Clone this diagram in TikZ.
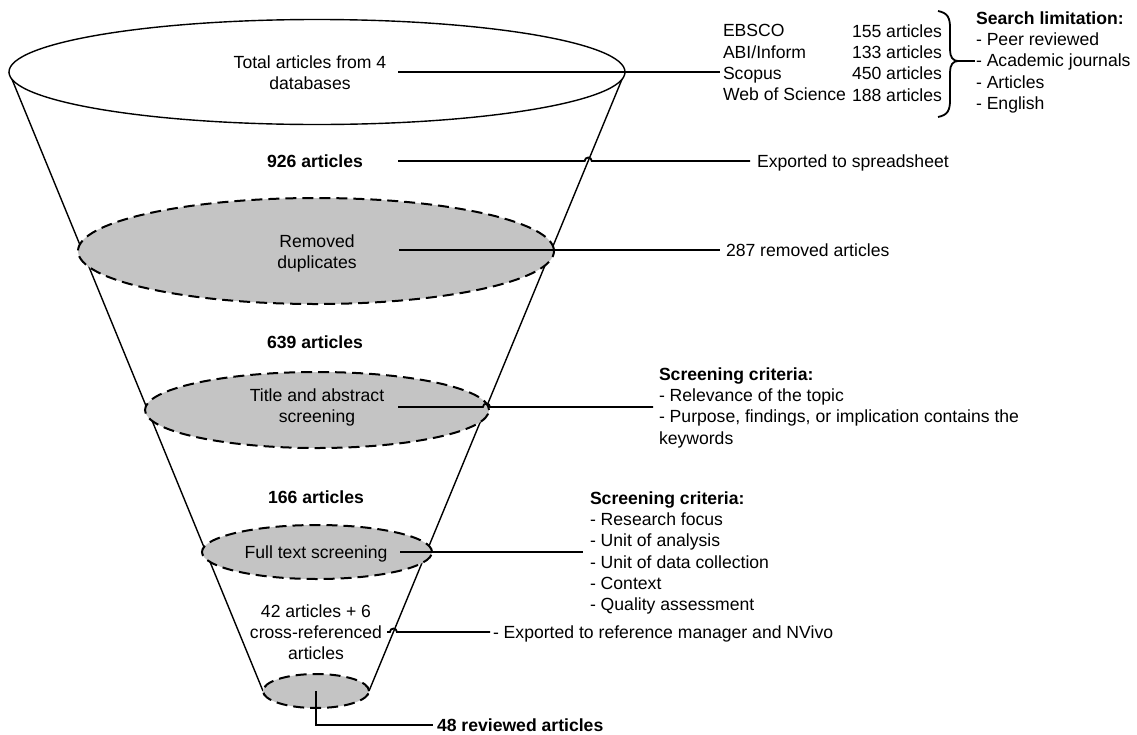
\documentclass[tikz,border=0pt]{standalone}
\usepackage{fontspec}
\setmainfont{Liberation Sans}
\usetikzlibrary{calc,shapes.geometric}
\definecolor{stagegray}{RGB}{196,196,196}
\begin{document}
\begin{tikzpicture}[x=1pt,y=-1pt,
  every node/.style={inner sep=0pt, outer sep=0pt, font=\fontsize{17.6}{21.3}\selectfont},
  txt/.style={text height=12.6pt, text depth=0pt},
  bold/.style={font=\fontsize{17.6}{21.3}\selectfont\bfseries},
  funnel/.style={line width=1.4pt, black},
  conn/.style={line width=1.8pt, black},
  stage/.style={ellipse, draw=black, fill=stagegray, line width=2pt, dash pattern=on 11pt off 6pt},
]
\useasboundingbox (0,0) rectangle (1137,734);

% funnel outline
\coordinate (Lt) at (9,72);
\coordinate (Rt) at (625,72);
\coordinate (Lb) at (263,691);
\coordinate (Rb) at (369,691);
\draw[funnel] (Lt) -- (Lb);
\draw[funnel] (Rt) -- (Rb);
\node[ellipse, draw=black, fill=white, line width=1.4pt, minimum width=616pt, minimum height=105pt] (top) at (317,72) {};

% stage ellipses
\node[stage, minimum width=476pt, minimum height=106pt] (dup) at (316,251) {};
\node[stage, minimum width=344pt, minimum height=76pt] (tas) at (317,410) {};
\node[stage, minimum width=230pt, minimum height=54pt] (fts) at (317,552) {};
\node[stage, minimum width=106pt, minimum height=34pt] (bot) at (316,691) {};

% funnel texts
\node[anchor=north, align=center] (total) at (310,55.5) {Total articles from 4\\databases};
\node[txt, bold] (n926) at (315,161) {926 articles};
\node[anchor=north, align=center] (remtxt) at (317,234.5) {Removed\\duplicates};
\node[txt, bold] (n639) at (315,342) {639 articles};
\node[anchor=north, align=center] (tastxt) at (317,388.5) {Title and abstract\\screening};
\node[txt, bold] (n166) at (316,497) {166 articles};
\node[txt] (ftstxt) at (316,552) {Full text screening};
\node[anchor=north, align=center] (n42) at (316,604.5) {42 articles + 6\\cross-referenced\\articles};

% right side texts
\node[anchor=north west, align=left] (dbnames) at (723,24.5) {EBSCO\\ABI/Inform\\Scopus\\Web of Science};
\node[anchor=north east, align=right] (dbnums) at (942,24.5) {155 articles\\133 articles\\450 articles\\188 articles};
\node[anchor=north west, align=left] (limit) at (976,11.5) {\textbf{Search limitation:}\\- Peer reviewed\\- Academic journals\\- Articles\\- English};
\node[txt, anchor=west] (exp1) at (757,161) {Exported to spreadsheet};
\node[txt, anchor=west] (rem) at (726,250) {287 removed articles};
\node[anchor=north west, align=left] (crit1) at (659,367.5) {\textbf{Screening criteria:}\\- Relevance of the topic\\- Purpose, findings, or implication contains the\\keywords};
\node[anchor=north west, align=left] (crit2) at (590,491.5) {\textbf{Screening criteria:}\\- Research focus\\- Unit of analysis\\- Unit of data collection\\- Context\\- Quality assessment};
\node[txt, anchor=west] (exp2) at (493,632) {- Exported to reference manager and NVivo};
\node[txt, bold, anchor=west] (rev) at (437,725) {48 reviewed articles};

% connector start points and jump points
\coordinate (s1) at (398,72);
\coordinate (e1) at (720,72);
\coordinate (s2) at (398,161);
\coordinate (j2) at ($(Rt)!{(161-72)/619}!(Rb)$);
\coordinate (s3) at (399,250);
\coordinate (s4) at (398,407);
\coordinate (j4) at ($(Rt)!{(407-72)/619}!(Rb)$);
\coordinate (e4) at (653,407);
\coordinate (s5) at (400,552);
\coordinate (e5) at (583,552);
\coordinate (s6) at (387,632);
\coordinate (j6) at ($(Rt)!{(632-72)/619}!(Rb)$);

% connectors
\draw[conn] (s1) -- (e1);
\draw[conn] (s2) -- ($(j2)+(-3.5,0)$) arc[start angle=180, end angle=360, radius=3.5] -- ([xshift=-7pt]exp1.west);
\draw[conn] (s3) -- ([xshift=-6pt]rem.west);
\draw[conn] (s4) -- ($(j4)+(-3.5,0)$) arc[start angle=180, end angle=360, radius=3.5] -- (e4);
\draw[conn] (s5) -- (e5);
\draw[conn] (s6) -- ($(j6)+(-3.5,0)$) arc[start angle=180, end angle=360, radius=3.5] -- ([xshift=-3pt]exp2.west);
\draw[conn] (bot.center) |- ([xshift=-4pt]rev.west);

% brace
\coordinate (tip) at (958,61);
\draw[line width=1.8pt] (938,11) .. controls (948,13) and (950,18) .. (950,28) -- (950,50)
  .. controls (950,57) and (953,61) .. (tip)
  .. controls (953,61) and (950,65) .. (950,72) -- (950,100)
  .. controls (950,110) and (948,115) .. (938,117);
\draw[conn] (tip) -- (975,61);
\end{tikzpicture}
\end{document}
